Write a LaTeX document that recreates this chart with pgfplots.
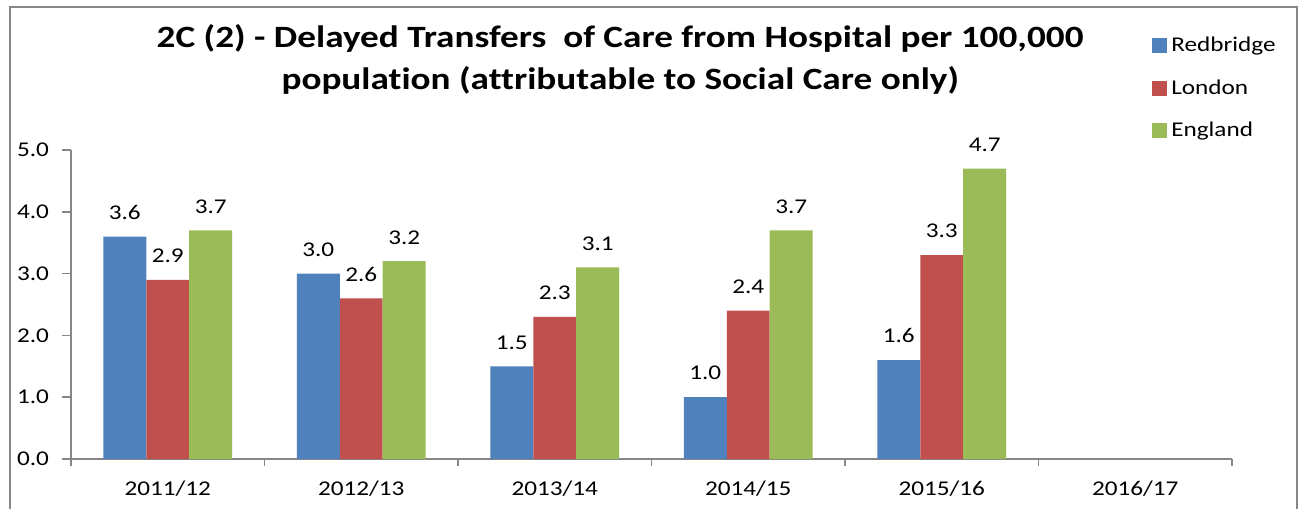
\documentclass[border=0pt]{standalone}
\usepackage{fontspec}
\setmainfont{Carlito}[FakeStretch=1.2,Ligatures=NoCommon]
\usepackage{pgfplots}
\pgfplotsset{compat=1.18}
\definecolor{cRed}{RGB}{79,129,189}
\definecolor{cLon}{RGB}{192,80,77}
\definecolor{cEng}{RGB}{155,187,89}
\definecolor{cAxis}{RGB}{134,134,134}

\begin{document}
\begin{tikzpicture}
\path[use as bounding box] (0,0) rectangle (653pt,254.5pt);
% outer chart frame
\draw[cAxis,line width=0.8pt] (5pt,0) -- (5pt,251pt) -- (648.5pt,251pt) -- (648.5pt,0);
\begin{axis}[
    at={(35.5pt,25pt)}, anchor=south west,
    scale only axis,
    width=580.5pt, height=154.5pt,
    ybar=0pt,
    bar width=0.222,
    xmin=-0.5, xmax=5.5,
    ymin=0, ymax=5,
    axis lines*=left,
    axis line style={cAxis,line width=0.8pt},
    tick style={cAxis,line width=0.8pt},
    tick align=outside,
    xtick={0,1,2,3,4,5},
    xticklabels={2011/12,2012/13,2013/14,2014/15,2015/16,2016/17},
    major x tick style={draw=none},
    minor xtick={-0.5,0.5,1.5,2.5,3.5,4.5,5.5},
    minor tick length=3.5pt,
    ytick={0,1,2,3,4,5},
    major tick length=4.5pt,
    ticklabel style={font=\fontsize{10.5}{12.5}\selectfont},
    xticklabel style={yshift=-3pt},
    yticklabel style={xshift=-3pt,/pgf/number format/.cd,fixed,fixed zerofill,precision=1,assume math mode=true},
    nodes near coords={\pgfmathprintnumber[fixed,fixed zerofill,precision=1,assume math mode=true]{\pgfplotspointmeta}},
    nodes near coords style={font=\fontsize{10.5}{12.5}\selectfont,anchor=south,yshift=5pt,text=black},
    title={2C (2) - Delayed Transfers\ \ of Care from Hospital per 100,000\\population (attributable to Social Care only)},
    title style={font=\bfseries\fontsize{15.5}{21}\selectfont,align=center,
                 at={(axis description cs:0.473,1.255)},anchor=center},
    legend style={at={(axis description cs:0.931,1.38)},anchor=north west,
                  draw=none,fill=none,font=\fontsize{10.5}{12.5}\selectfont,
                  row sep=8.5pt,inner sep=0pt,
                  /tikz/every even column/.append style={column sep=3pt}},
    legend cell align=left,
    legend image code/.code={\fill[#1] (0pt,-3.75pt) rectangle (7.5pt,3.75pt);},
]
\addplot[fill=cRed,draw=none] coordinates {(0,3.6) (1,3.0) (2,1.5) (3,1.0) (4,1.6)};
\addlegendentry{Redbridge}
\addplot[fill=cLon,draw=none] coordinates {(0,2.9) (1,2.6) (2,2.3) (3,2.4) (4,3.3)};
\addlegendentry{London}
\addplot[fill=cEng,draw=none] coordinates {(0,3.7) (1,3.2) (2,3.1) (3,3.7) (4,4.7)};
\addlegendentry{England}
\end{axis}
\end{tikzpicture}
\end{document}
